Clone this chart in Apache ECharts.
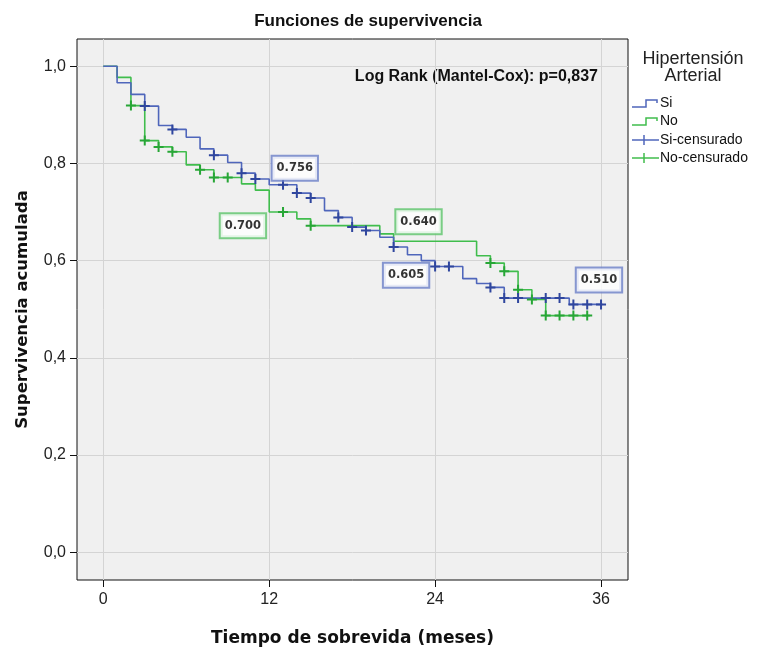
<!DOCTYPE html>
<html><head><meta charset="utf-8">
<script src="https://cdn.jsdelivr.net/npm/echarts@6/dist/echarts.min.js"></script>
<style>html,body{margin:0;padding:0;background:#fff}#c{width:758px;height:652px}</style>
</head><body><div id="c"></div>
<script>
// ---- data ----
const xTicks = [0, 12, 24, 36];
const yTicks = [0, 0.2, 0.4, 0.6, 0.8, 1.0];
const siCurve = [[0,1],[1,0.966],[2,0.942],[3,0.918],[4,0.878],[5,0.870],[6,0.854],[7,0.830],[8,0.817],[9,0.802],[10,0.780],[11,0.768],[12,0.756],[14,0.739],[15,0.729],[16,0.703],[17,0.689],[18,0.669],[19,0.662],[20,0.648],[21,0.628],[22,0.612],[23,0.600],[24,0.588],[26,0.563],[27,0.553],[28,0.545],[29,0.523],[33.7,0.510],[36.1,0.510]];
const noCurve = [[0,1],[1,0.977],[2,0.919],[3,0.847],[4,0.834],[5,0.824],[6,0.797],[7,0.787],[8,0.771],[10,0.758],[11,0.745],[12,0.700],[14,0.686],[15,0.672],[20,0.655],[21,0.640],[27,0.610],[28,0.595],[29,0.578],[30,0.540],[31,0.520],[32,0.487],[35.2,0.487]];
const siCensored = [[3,0.918],[5,0.870],[8,0.817],[10,0.780],[11,0.768],[13,0.756],[14,0.739],[15,0.729],[17,0.689],[18,0.669],[19,0.662],[21,0.628],[24,0.588],[25,0.588],[28,0.545],[29,0.523],[30,0.523],[32,0.523],[33,0.523],[34,0.510],[35,0.510],[36,0.510]];
const noCensored = [[2,0.919],[3,0.847],[4,0.834],[5,0.824],[7,0.787],[8,0.771],[9,0.771],[13,0.700],[15,0.672],[28,0.595],[29,0.578],[30,0.540],[31,0.520],[32,0.487],[33,0.487],[34,0.487],[35,0.487]];
const annotations = [[13.85,0.790,'0.756','Si'],[10.1,0.672,'0.700','No'],[22.8,0.680,'0.640','No'],[21.9,0.570,'0.605','Si'],[35.85,0.560,'0.510','Si']];
const legendNames = ['Si','No','Si-censurado','No-censurado'];

// ---- style ----
const BLUE = '#4f66bb', GREEN = '#40bd4d', BLUE_D = '#2f469e', GREEN_D = '#27a636';
const PLUS = 'path://M4,0H6V4H10V6H6V10H4V6H0V4H4Z';

const chart = echarts.init(document.getElementById('c'));

const annData = annotations.map(a => ({
  value: [a[0], a[1]],
  label: { borderColor: a[3] === 'Si' ? '#6b7fc8' : '#5cc46a' }
}));

const legendRows = [103, 121, 140, 158];
const lx0 = 632, lx1 = 659;
const legendGraphics = [];
legendNames.forEach((n, i) => {
  const y = legendRows[i];
  const col = (i % 2 === 0) ? BLUE : GREEN;
  if (i < 2) {
    legendGraphics.push({ type: 'polyline', shape: { points: [[lx0, y + 4], [646, y + 4], [646, y - 3], [657, y - 3], [657, y]] }, style: { stroke: col, lineWidth: 1.5, fill: null } });
  } else {
    legendGraphics.push({ type: 'line', shape: { x1: lx0, y1: y, x2: lx1, y2: y }, style: { stroke: col, lineWidth: 1.5 } });
    legendGraphics.push({ type: 'line', shape: { x1: 644, y1: y - 5, x2: 644, y2: y + 5 }, style: { stroke: col, lineWidth: 1.5 } });
  }
  legendGraphics.push({ type: 'text', style: { text: n, x: 660, y: y, textVerticalAlign: 'middle', font: '14px "Liberation Sans"', fill: '#111' } });
});

chart.setOption({
  animation: false,
  backgroundColor: '#fff',
  grid: { left: 77, right: 130, top: 39, bottom: 61, show: true, backgroundColor: '#f0f0f0', borderColor: '#111', borderWidth: 1 },
  xAxis: {
    type: 'value', min: -1.9, max: 37.95,
    axisLine: { show: false, onZero: false },
    axisTick: { show: true, customValues: xTicks, length: 7, lineStyle: { color: '#111' } },
    axisLabel: { customValues: xTicks, fontSize: 16, color: '#222', margin: 12, fontFamily: 'Liberation Sans' },
    splitLine: { show: true, lineStyle: { color: '#d4d4d4', width: 1 } },
    name: 'Tiempo de sobrevida (meses)', nameLocation: 'middle', nameGap: 50,
    nameTextStyle: { fontSize: 17, fontWeight: 'bold', fontFamily: 'DejaVu Sans', color: '#111' }
  },
  yAxis: {
    type: 'value', min: -0.057, max: 1.056,
    axisLine: { show: false, onZero: false },
    axisTick: { show: true, customValues: yTicks, length: 7, lineStyle: { color: '#111' } },
    axisLabel: { customValues: yTicks, fontSize: 16, color: '#222', margin: 11, fontFamily: 'Liberation Sans',
      formatter: v => v.toFixed(1).replace('.', ',') },
    splitLine: { show: true, lineStyle: { color: '#d4d4d4', width: 1 } },
    name: 'Supervivencia acumulada', nameLocation: 'middle', nameGap: 46,
    nameTextStyle: { fontSize: 16.5, fontWeight: 'bold', fontFamily: 'DejaVu Sans', color: '#111' }
  },
  series: [
    { name: 'No', type: 'line', step: 'end', data: noCurve, showSymbol: false, lineStyle: { color: GREEN, width: 1.6 }, itemStyle: { color: GREEN }, z: 2 },
    { name: 'Si', type: 'line', step: 'end', data: siCurve, showSymbol: false, lineStyle: { color: BLUE, width: 1.6 }, itemStyle: { color: BLUE }, z: 3 },
    { name: 'No-censurado', type: 'scatter', data: noCensored, symbol: PLUS, symbolSize: 10, itemStyle: { color: GREEN_D, opacity: 1 }, z: 4 },
    { name: 'Si-censurado', type: 'scatter', data: siCensored, symbol: PLUS, symbolSize: 10, itemStyle: { color: BLUE_D, opacity: 1 }, z: 5 },
    { name: 'labels', type: 'scatter', data: annData, symbolSize: 0.1, itemStyle: { color: 'rgba(0,0,0,0)' }, z: 10,
      label: { show: true, position: 'inside', formatter: p => annotations[p.dataIndex][2],
        backgroundColor: '#fff', borderWidth: 2, padding: [5, 4, 4, 4], fontSize: 11.5, fontWeight: 'bold',
        fontFamily: 'DejaVu Sans', color: '#000', lineHeight: 14 } }
  ],
  graphic: [
    { type: 'text', style: { text: 'Funciones de supervivencia', x: 368, y: 21, textAlign: 'center', textVerticalAlign: 'middle', font: 'bold 17px "Liberation Sans"', fill: '#111' } },
    { type: 'text', style: { text: 'Log Rank (Mantel-Cox): p=0,837', x: 598, y: 77, textAlign: 'right', textVerticalAlign: 'middle', font: 'bold 16px "Liberation Sans"', fill: '#111' } },
    { type: 'text', style: { text: 'Hipertensión', x: 693, y: 59, textAlign: 'center', textVerticalAlign: 'middle', font: '18px "Liberation Sans"', fill: '#222' } },
    { type: 'text', style: { text: 'Arterial', x: 693, y: 76, textAlign: 'center', textVerticalAlign: 'middle', font: '18px "Liberation Sans"', fill: '#222' } }
  ].concat(legendGraphics)
});
</script>
</body></html>
